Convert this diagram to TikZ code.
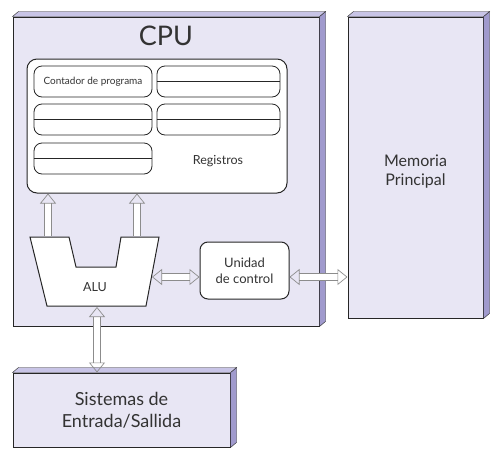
\documentclass[tikz,border=0pt]{standalone}
\usepackage{fontspec}
\setmainfont{Lato}
\usepackage{xcolor}
\usetikzlibrary{arrows.meta}
\definecolor{boxfill}{RGB}{232,230,244}
\definecolor{sidefill}{RGB}{160,154,205}
\definecolor{topfill}{RGB}{200,196,230}

\begin{document}
\begin{tikzpicture}[x=1pt, y=-1pt,
    every node/.style={text=black!80, inner sep=0pt},
    box/.style={draw=black!85, fill=boxfill, line width=1pt},
    reg/.style={draw=black!85, fill=white, rounded corners=8pt, line width=0.8pt, minimum height=31pt},
    bus/.style={draw=black!45, double=white, double distance=6pt, line width=0.7pt, {Triangle[open, length=10pt, width=16pt, line width=0.7pt]}-{Triangle[open, length=10pt, width=16pt, line width=0.7pt]}},
    busup/.style={draw=black!45, double=white, double distance=6pt, line width=0.7pt, -{Triangle[open, length=10pt, width=16pt, line width=0.7pt]}}]
\useasboundingbox (0,0) rectangle (504,464);
            % CPU
            \node[box, minimum width=306pt, minimum height=309pt] (cpu) at (166,171.5) {};
            \filldraw[fill=sidefill, draw=black!85] (cpu.north east) -- ++(6,-5) -- ([shift={(6,-5)}]cpu.south east) -- (cpu.south east) -- cycle;
            \filldraw[fill=topfill, draw=black!85] (cpu.north west) -- ++(6,-5) -- ([shift={(6,-5)}]cpu.north east) -- (cpu.north east) -- cycle;
            \node[font=\fontsize{27}{30}\selectfont] (cputxt) at (166,36) {CPU};
            % Memoria
            \node[box, minimum width=135pt, minimum height=301pt] (mem) at (415.5,167.5) {};
            \filldraw[fill=sidefill, draw=black!85] (mem.north east) -- ++(6,-5) -- ([shift={(6,-5)}]mem.south east) -- (mem.south east) -- cycle;
            \filldraw[fill=topfill, draw=black!85] (mem.north west) -- ++(6,-5) -- ([shift={(6,-5)}]mem.north east) -- (mem.north east) -- cycle;
            \node[align=center, font=\fontsize{16}{19}\selectfont] (memtxt) at (415.5,172) {Memoria\\Principal};
            % Entrada/Salida
            \node[box, minimum width=217pt, minimum height=74pt] (io) at (121.5,410) {};
            \filldraw[fill=sidefill, draw=black!85] (io.north east) -- ++(6,-5) -- ([shift={(6,-5)}]io.south east) -- (io.south east) -- cycle;
            \filldraw[fill=topfill, draw=black!85] (io.north west) -- ++(6,-5) -- ([shift={(6,-5)}]io.north east) -- (io.north east) -- cycle;
            \node[align=center, font=\fontsize{18}{22}\selectfont] (iotxt) at (io) {Sistemas de\\Entrada/Sallida};
            % Registros
            \node[draw=black!85, fill=white, rounded corners=10pt, line width=1pt, minimum width=260pt, minimum height=134pt] (regs) at (157,126) {};
            \node[reg, minimum width=118pt, font=\fontsize{10}{11}\selectfont] (pc) at (93,81.5) {Contador de programa};
            \node[reg, minimum width=123pt] (r1) at (218.5,81.5) {};
            \node[reg, minimum width=118pt] (r2) at (93,119.5) {};
            \node[reg, minimum width=123pt] (r3) at (218.5,119.5) {};
            \node[reg, minimum width=118pt] (r4) at (93,158.5) {};
            \draw[line width=0.8pt, black!85] (r1.west) -- (r1.east);
            \draw[line width=0.8pt, black!85] (r2.west) -- (r2.east);
            \draw[line width=0.8pt, black!85] (r3.west) -- (r3.east);
            \draw[line width=0.8pt, black!85] (r4.west) -- (r4.east);
            \node[font=\fontsize{12.5}{14}\selectfont] (regtxt) at (218,161) {Registros};
            % ALU
            \filldraw[fill=white, draw=black!85, line width=1pt] (30,237) -- (69,237) -- (76,267) -- (116,267) -- (121,237) -- (159,237) -- (146,306) -- (47,306) -- cycle;
            \node[font=\fontsize{12.5}{14}\selectfont] (alu) at (95,287) {ALU};
            \coordinate (alua) at (48,236);
            \coordinate (alub) at (137,236);
            \coordinate (alur) at (152,277);
            \coordinate (alud) at (97,307);
            % Unidad de control
            \node[draw=black!85, fill=white, rounded corners=8pt, line width=1pt, minimum width=89pt, minimum height=57pt, align=center, font=\fontsize{13}{16}\selectfont] (uc) at (244.5,270.5) {Unidad\\de control};
            % Buses
            \draw[busup] (alua) -- (regs.south -| alua);
            \draw[busup] (alub) -- (regs.south -| alub);
            \draw[bus] (alur) -- (uc.west |- alur);
            \draw[bus] (uc.east |- alur) -- (mem.west |- alur);
            \draw[bus] (alud) -- (io.north -| alud);
        \end{tikzpicture}
\end{document}
